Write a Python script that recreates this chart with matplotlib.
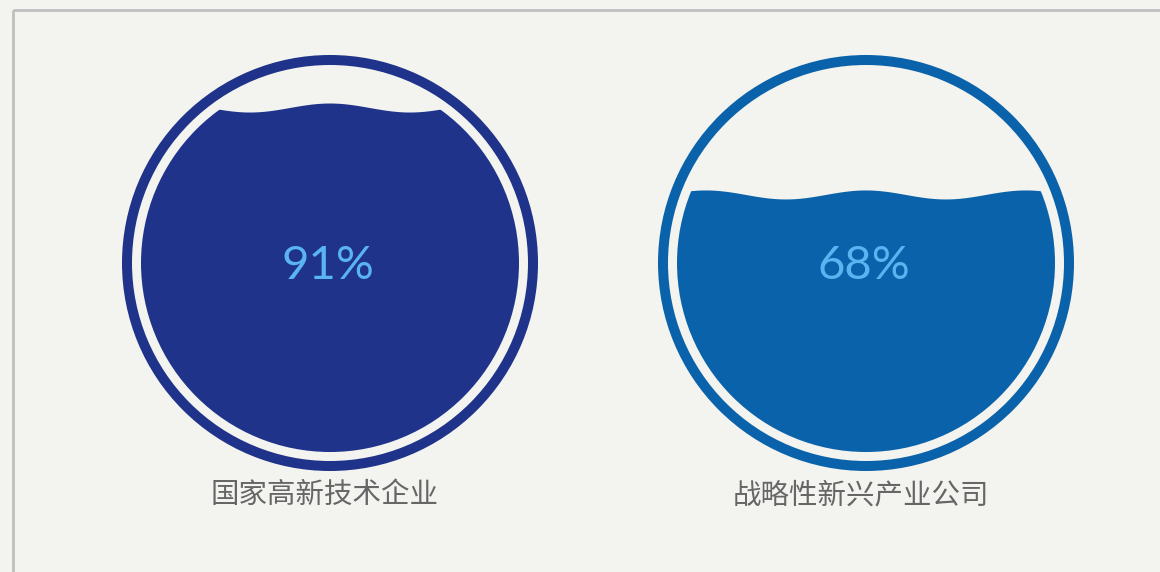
import numpy as np
import matplotlib.pyplot as plt
from matplotlib.patches import Circle, Rectangle

plt.rcParams['font.family'] = ['Noto Sans CJK SC', 'DejaVu Sans']

# ---------------------- 数据 ----------------------
labels = ['国家高新技术企业', '战略性新兴产业公司']
values = [0.91, 0.68]
colors = ['#1e3389', '#0a63aa']
centers_x = [330, 866]

bg = '#f3f3ef'
center_y = 263
r_outer = 203      # 外环中线半径
ring_w = 10
r_inner = 189      # 水面圆半径
wave_len = 160
wave_amp = 4.5

fig = plt.figure(figsize=(11.6, 5.72), dpi=100, facecolor=bg)
ax = fig.add_axes([0, 0, 1, 1])
ax.set_xlim(0, 1160)
ax.set_ylim(572, 0)
ax.set_aspect('equal')
ax.axis('off')
ax.set_facecolor(bg)

# 外框
ax.add_patch(Rectangle((13, 10), 1200, 600, fill=False, edgecolor='#bfbfbf', linewidth=2))

for lab, v, c, cx in zip(labels, values, colors, centers_x):
    # 外环
    ax.add_patch(Circle((cx, center_y), r_outer, fill=False, edgecolor=c, linewidth=ring_w * 0.72))

    # 水波
    clip = Circle((cx, center_y), r_inner, transform=ax.transData, facecolor='none', edgecolor='none')
    ax.add_patch(clip)
    level = center_y + r_inner - v * 2 * r_inner
    xs = np.linspace(cx - r_inner - 2, cx + r_inner + 2, 400)
    ys = level - wave_amp * np.cos(2 * np.pi * (xs - cx) / wave_len)
    bottom = center_y + r_inner + 5
    px = np.concatenate([xs, [xs[-1], xs[0]]])
    py = np.concatenate([ys, [bottom, bottom]])
    water = ax.fill(px, py, color=c, linewidth=0)[0]
    water.set_clip_path(clip)

    # 百分比
    ax.text(cx - 2, center_y + 3, f'{int(round(v * 100))}%', ha='center', va='center',
            fontsize=34, color='#5ab4f2', family=['Lato', 'DejaVu Sans'])

    # 标签
    ax.text(cx - 5, 495, lab, ha='center', va='center', fontsize=20.5, color='#666666')

plt.savefig('out.png', dpi=100, facecolor=bg)
